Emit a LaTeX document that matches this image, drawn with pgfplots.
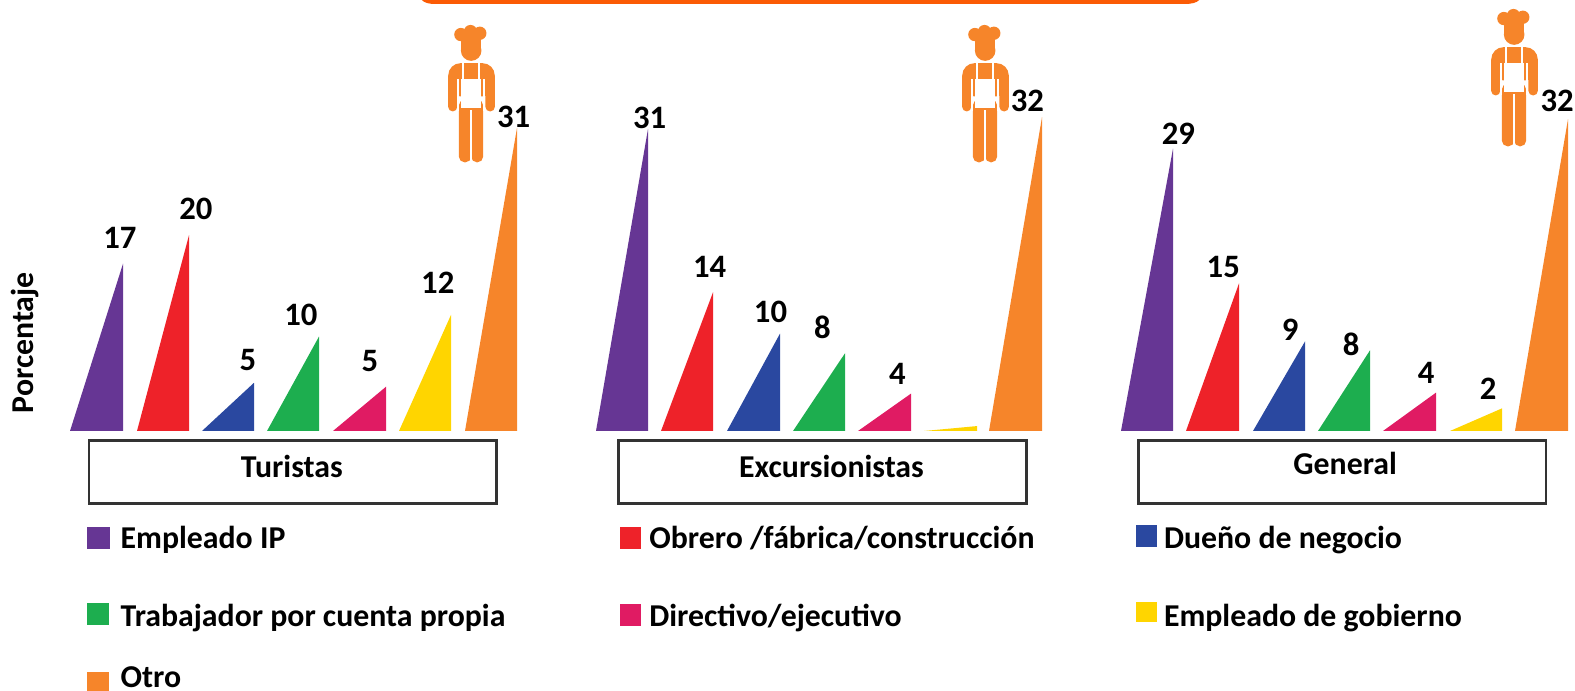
\documentclass[border=0pt]{standalone}
\usepackage{fontspec}
\setmainfont{Carlito}
\usepackage{pgfplots}
\pgfplotsset{compat=1.18}
\definecolor{cpurple}{HTML}{663694}
\definecolor{cred}{HTML}{EE2229}
\definecolor{cblue}{HTML}{2A48A0}
\definecolor{cgreen}{HTML}{1DAE4F}
\definecolor{cpink}{HTML}{E01B63}
\definecolor{cyellow}{HTML}{FFD500}
\definecolor{corange}{HTML}{F6852A}
\definecolor{ctop}{HTML}{FB5B05}
% one triangular bar: left x, right x, value, colour
\newcommand{\tribar}[4]{\addplot[fill=#4,draw=none,forget plot] coordinates {(#1,0)(#2,0)(#2,#3)} --cycle;}
% chef icon, drawn in 3x zoom units, shifted by px offset
\newcommand{\chef}[2]{%
\begin{scope}[shift={(#1,#2)},x=0.003333cm,y=-0.003333cm]
  \fill[corange] (183,104) circle (20);
  \fill[corange] (240,100) circle (20);
  \fill[corange] (212,95) circle (20);
  \fill[corange] (183,105) rectangle (245,152);
  \fill[corange] (214,152) circle (31);
  \fill[corange,rounded corners=1.6pt] (177,300) rectangle (214,488);
  \fill[corange,rounded corners=1.6pt] (214,300) rectangle (250,488);
  \fill[corange,rounded corners=3.5pt] (145,190) rectangle (285,290);
  \fill[corange,rounded corners=1.25pt] (145,230) rectangle (172,335);
  \fill[corange,rounded corners=1.25pt] (257,230) rectangle (285,335);
  \fill[white] (172,237) rectangle (177,335);
  \fill[white] (250,237) rectangle (257,335);
  \fill[white] (183,237) rectangle (245,325);
  \fill[white] (187,190) rectangle (192,237);
  \fill[white] (235,190) rectangle (240,237);
  \fill[white] (211,330) rectangle (217,490);
\end{scope}}
\begin{document}
\begin{tikzpicture}
\path[use as bounding box] (0,0) rectangle (15.75cm,6.91cm);
\begin{axis}[
    at={(0,0)}, anchor=south west,
    scale only axis, width=15.75cm, height=6.91cm,
    hide axis,
    xmin=0, xmax=1575, ymin=-26.42, ymax=43.8,
]
% Turistas
\tribar{70}{123}{17.0}{cpurple}
\tribar{137}{189}{19.9}{cred}
\tribar{202}{254}{4.9}{cblue}
\tribar{267}{319}{9.6}{cgreen}
\tribar{333}{386}{4.5}{cpink}
\tribar{399}{451}{11.8}{cyellow}
\tribar{465}{517}{30.8}{corange}
% Excursionistas
\tribar{596}{648}{30.7}{cpurple}
\tribar{661}{713}{14.1}{cred}
\tribar{727}{780}{9.9}{cblue}
\tribar{793}{845}{7.9}{cgreen}
\tribar{858}{911}{3.8}{cpink}
\tribar{924}{977}{0.5}{cyellow}
\tribar{989}{1042}{31.9}{corange}
% General
\tribar{1121}{1173}{28.7}{cpurple}
\tribar{1186}{1239}{15.0}{cred}
\tribar{1253}{1305}{9.1}{cblue}
\tribar{1318}{1370}{8.2}{cgreen}
\tribar{1383}{1436}{3.9}{cpink}
\tribar{1450}{1502}{2.3}{cyellow}
\tribar{1515}{1568}{31.7}{corange}
\end{axis}
% everything below in reference pixels, y downwards
\begin{scope}[shift={(0,6.91cm)},x=0.01cm,y=-0.01cm,
    every node/.style={font=\fontsize{9.05}{11}\selectfont\bfseries,inner sep=0pt},
    lab/.style={font=\fontsize{9.3}{11}\selectfont\bfseries,anchor=center},
    key/.style={anchor=base west}]
  % top banner edge
  \fill[ctop] (422,0) .. controls (425,3) and (429,4) .. (436,4) -- (1185,4) .. controls (1192,4) and (1197,3) .. (1200,0) -- cycle;
  \chef{4cm}{0cm}
  \chef{9.14cm}{0cm}
  \chef{14.43cm}{0.16cm}
  % value labels
  \foreach \x/\y/\t in {120/238/17,196/209/20,248/360/5,301/315/10,370/361/5,438/283/12,514/117/31,
      650/118/31,710/267/14,771/312/10,823/328/8,898/374/4,1028/101/32,
      1179/134/29,1224/267/15,1291/330/9,1352/345/8,1427/373/4,1489/389/2,1558/101/32}
    \node[lab] at (\x,\y) {\t};
  % y label
  \node[rotate=90] at (25,343) {Porcentaje};
  % category boxes
  \foreach \x in {89,619,1139}
    \draw[line width=0.7pt,draw=black!80] (\x,441) rectangle (\x+408,504);
  \node at (292,467) {Turistas};
  \node at (832,467) {Excursionistas};
  \node at (1346,464) {General};
  % legend
  \fill[cpurple] (87,527) rectangle (110,549);
  \fill[cgreen] (87,603) rectangle (109,625);
  \fill[corange] (87,672) rectangle (109,691);
  \fill[cred] (620,527) rectangle (641,549);
  \fill[cpink] (620,604) rectangle (641,626);
  \fill[cblue] (1137,525) rectangle (1158,547);
  \fill[cyellow] (1137,602) rectangle (1158,622);
  \node[key] at (120,549) {Empleado IP};
  \node[key] at (120,627) {Trabajador por cuenta propia};
  \node[key] at (120,688) {Otro};
  \node[key] at (649,549) {Obrero /fábrica/construcción};
  \node[key] at (649,627) {Directivo/ejecutivo};
  \node[key] at (1164,549) {Dueño de negocio};
  \node[key] at (1164,627) {Empleado de gobierno};
\end{scope}
\end{tikzpicture}
\end{document}
